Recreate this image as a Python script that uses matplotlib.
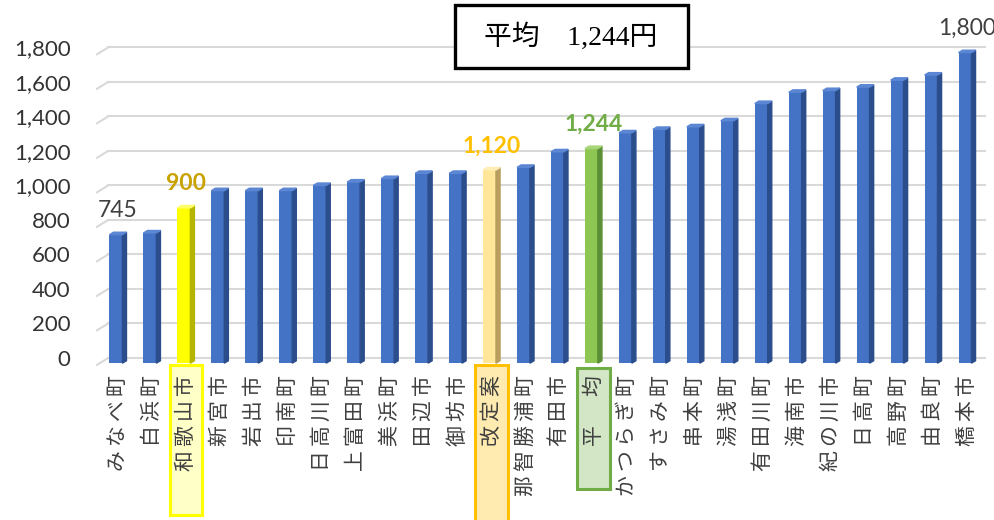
import matplotlib.pyplot as plt
import numpy as np
from matplotlib.patches import Polygon, Rectangle
from matplotlib.transforms import blended_transform_factory

plt.rcParams['font.family'] = ['Noto Sans CJK JP', 'DejaVu Sans']

# 市町村別の料金（円）
categories = ['みなべ町', '白浜町', '和歌山市', '新宮市', '岩出市', '印南町', '日高川町',
              '上富田町', '美浜町', '田辺市', '御坊市', '改定案', '那智勝浦町', '有田市',
              '平　均', 'かつらぎ町', 'すさみ町', '串本町', '湯浅町', '有田川町', '海南市',
              '紀の川市', '日高町', '高野町', '由良町', '橋本市']
values = [745, 755, 900, 1000, 1000, 1000, 1030, 1050, 1070, 1100, 1100, 1120, 1135,
          1225, 1244, 1335, 1355, 1370, 1405, 1505, 1570, 1580, 1600, 1640, 1670, 1800]
y_ticks = [0, 200, 400, 600, 800, 1000, 1200, 1400, 1600, 1800]

# 値ラベルを付ける項目
labeled = ['みなべ町', '和歌山市', '改定案', '平　均', '橋本市']

# 色: 前面, 側面, 上面, ラベル色, 枠線, 枠の塗り
blue = ('#4472C4', '#2B4D8C', '#5B86D3', '#404040', None, None)
styles = {
    '和歌山市': ('#FFFF00', '#B5B500', '#FFFF66', '#C9A200', '#FFFF00', '#FFFFC8'),
    '改定案': ('#FFE699', '#B89F5E', '#FFEDB5', '#FFC000', '#FFC000', '#FFEAB0'),
    '平　均': ('#8DC653', '#5C8F35', '#A6D57A', '#70AD47', '#70AD47', '#D3E6C6'),
}
# 枠の上下端（図の座標）
box_span = {'和歌山市': (0.0096, 0.298), '改定案': (-0.01, 0.298), '平　均': (0.0596, 0.292)}

fig = plt.figure(figsize=(9.95, 5.2), dpi=100)
ax = fig.add_axes([90 / 995, 150 / 520, 900 / 995, 350 / 520])
ax.patch.set_visible(False)

x = np.arange(len(values))
shift, dx, dy = 30, 0.12, 14
w = 0.38

# 奥の壁の目盛線と左側の床の斜線
for lv in y_ticks:
    ax.plot([-0.29, 25.53], [lv, lv], color='#D9D9D9', lw=1.5, zorder=0)
    ax.plot([-0.62, -0.29], [lv - 40, lv], color='#D9D9D9', lw=1.5, zorder=0)

for xi, name, v in zip(x, categories, values):
    face, side, top, *_ = styles.get(name, blue)
    l, r = xi - 0.25, xi - 0.25 + w
    ax.bar(l, v, width=w, bottom=-shift, align='edge', color=face, zorder=2)
    ax.add_patch(Polygon([(r, -shift), (r + dx, -shift + dy), (r + dx, v - shift + dy),
                          (r, v - shift)], closed=True, color=side, zorder=2))
    ax.add_patch(Polygon([(l, v - shift), (r, v - shift), (r + dx, v - shift + dy),
                          (l + dx, v - shift + dy)], closed=True, color=top, zorder=2))
    if name in labeled:
        col = styles.get(name, blue)[3]
        ax.annotate(f'{v:,}', (xi, v - shift + dy), xytext=(0, 8), textcoords='offset points',
                    ha='center', va='bottom', fontsize=16.5, family='Lato', color=col,
                    fontweight='bold' if name in styles else 'normal')

# 強調する項目名の枠
trans = blended_transform_factory(ax.transData, fig.transFigure)
for name, (y0, y1) in box_span.items():
    xi = categories.index(name)
    st = styles[name]
    ax.add_patch(Rectangle((xi - 0.48, y0), 0.96, y1 - y0, transform=trans, clip_on=False,
                           facecolor=st[5], edgecolor=st[4], lw=2.2, zorder=0.5))

# 縦書き風に文字間を少し空ける
spaced = ['\u2009'.join(c) for c in categories]

ax.set_xlim(-0.824, 25.676)
ax.set_ylim(-69.6, 1959)
ax.set_xticks(x)
ax.set_xticklabels(spaced, rotation=90, fontsize=15, color='#404040')
ax.set_yticks(y_ticks)
ax.set_yticklabels([f'{t:,}' for t in y_ticks], fontsize=16, family='Lato', color='#333333')
ax.tick_params(axis='x', length=0, pad=4)
ax.tick_params(axis='y', length=0, pad=14)
for s in ax.spines.values():
    s.set_visible(False)

# 平均の表示枠
avg = values[categories.index('平　均')]
fig.add_artist(Rectangle((455 / 995, 1 - 68 / 520), 233 / 995, 63 / 520,
                         transform=fig.transFigure, facecolor='white', edgecolor='black', lw=2.4))
fig.text(571 / 995, 1 - 37 / 520, f'平均　{avg:,}円', ha='center', va='center', fontsize=20,
         family=['Liberation Serif', 'Noto Sans CJK JP'], color='black')

fig.savefig('out.png', dpi=100)
